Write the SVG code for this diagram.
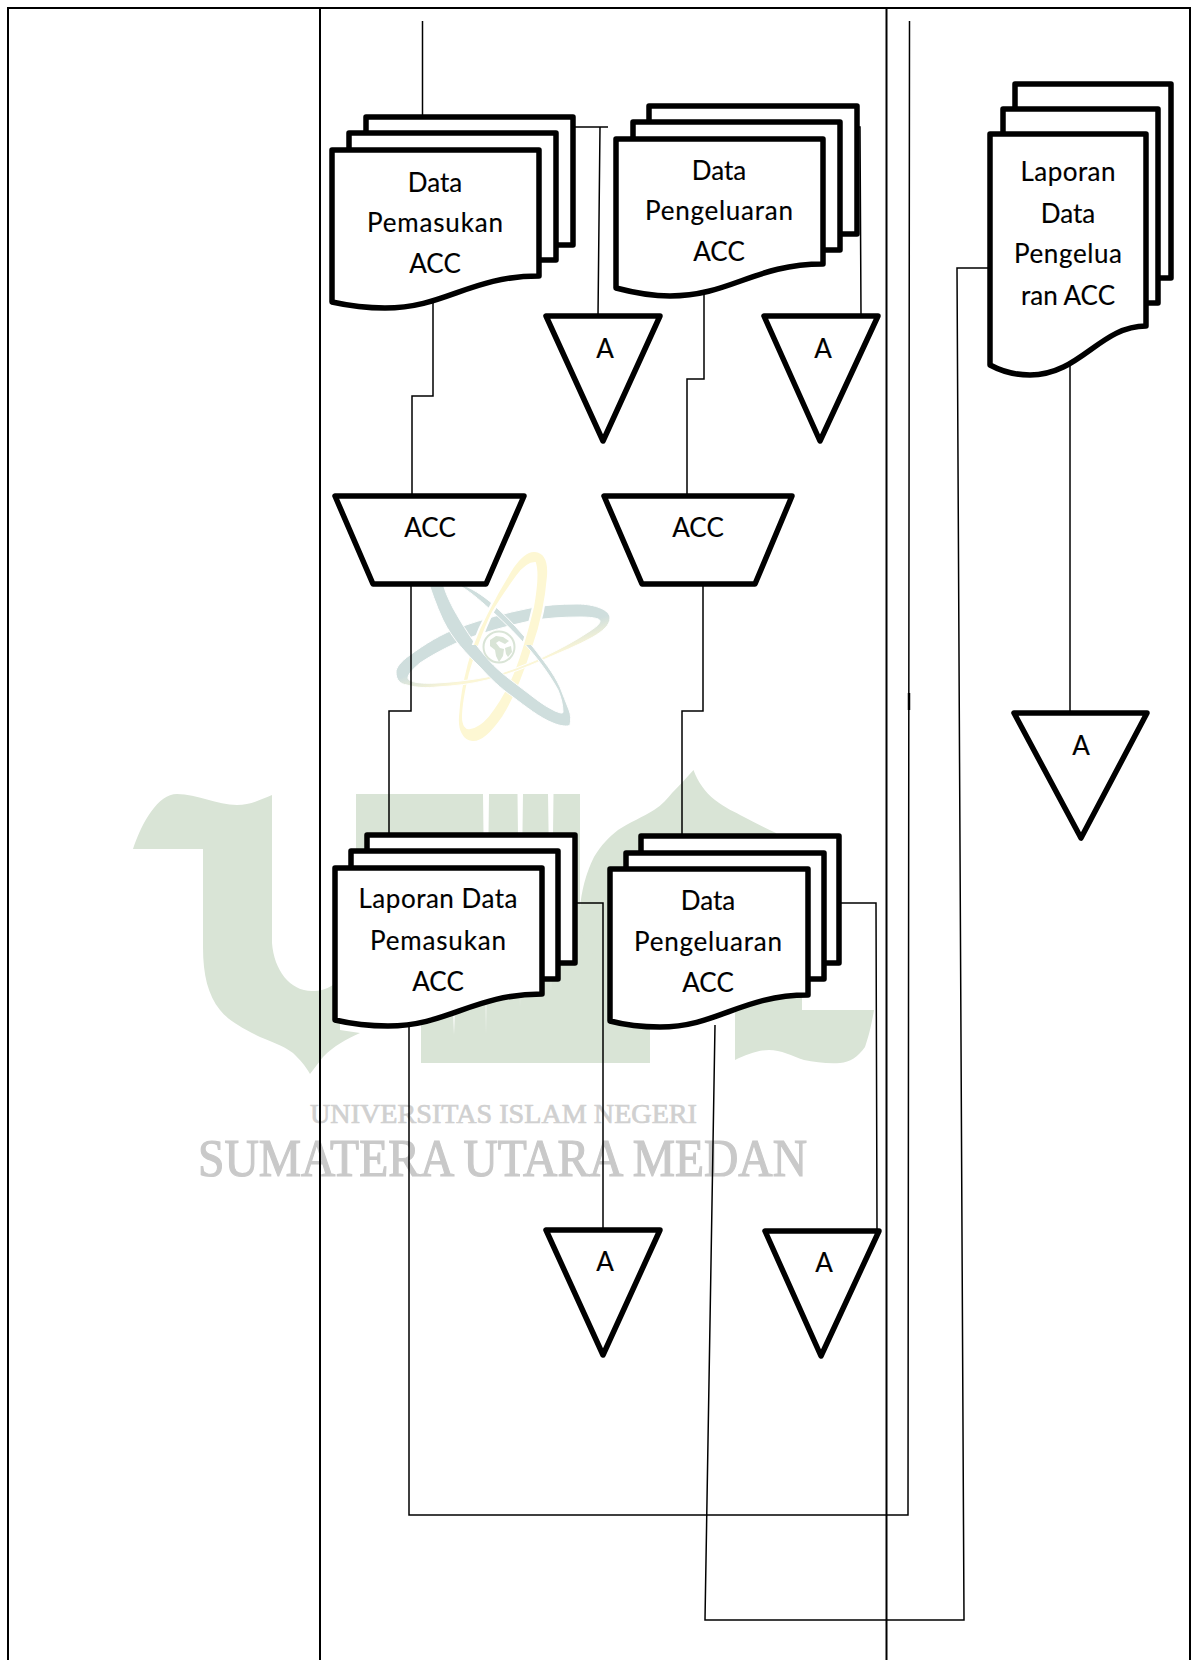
<svg xmlns="http://www.w3.org/2000/svg" width="1200" height="1660" viewBox="0 0 1200 1660">
<defs>
<linearGradient id="ringGrad" gradientUnits="userSpaceOnUse" x1="488" y1="622" x2="506" y2="682">
<stop offset="0.45" stop-color="#cfdedd"/><stop offset="0.8" stop-color="#fbf6d6"/>
</linearGradient>
<clipPath id="upperYellow"><rect x="470" y="540" width="90" height="105"/></clipPath>
<path id="yellowRing" fill="#fdf7d3" fill-rule="evenodd" stroke="#fff" stroke-width="2" d="M535 551C545 552 549 562 548 576C546 600 541 625 533 647C524 675 514 700 503 717C492 733 481 743 472 742C462 741 457 730 458 717C459 698 462 682 467 663C472 645 479 628 487 613C495 597 504 581 513 567C520 557 527 550 535 551ZM535 563C530 563 523 568 517 576C507 590 500 600 493 612C484 630 477 650 470 673C466 690 463 705 463 717C463 725 466 729 470 728C476 727 482 723 488 716C497 705 503 695 510 680C519 660 527 632 533 607C536 590 538 572 535 563Z"/>
</defs>
<style>
.frame{fill:none;stroke:#000;stroke-width:2}
.wm{fill:#d9e4d6;stroke:none}
.slit{fill:#fff;stroke:none}
.doc,.shape{fill:#fff;stroke:#000;stroke-width:5.500;stroke-linejoin:round}
.conn{fill:none;stroke:#000;stroke-width:1.500}
.t{font-family:"Lato","Liberation Sans",sans-serif;font-size:26px;fill:#000;text-anchor:middle;stroke:#000;stroke-width:.15}
.g{font-family:"Liberation Serif",serif;fill:#d0d0d0;stroke:#d0d0d0;stroke-width:.7}
</style>
<rect width="1200" height="1660" fill="#fff"/>
<g id="watermark">
<path class="wm" d="M133 849C142 822 158 794 177 794C197 794 217 805 237 805C250 805 260 800 272 795V943C274 970 290 991 312 991C320 991 327 990 340 980V1030L360 1033C345 1040 335 1045 323 1057L310 1074C305 1065 300 1060 293 1053C282 1045 272 1042 260 1037C240 1027 228 1020 220 1010C208 995 203 975 203 947V849Z"/>
<path class="wm" d="M356 794H580V910H650V1063H421V1000H356Z"/>
<path class="wm" d="M693.500 770C698 782 705 792 715 800C725 808 735 812 744 817C755 823 766 828 776 833L790 860V1000H620L579 930C579 910 581 893 586 877C589 868 591 863 594 857C601 845 609 837 618 830C630 822 643 817 654 810C662 805 668 798 672 793C680 785 687 777 693.500 770Z"/>
<path class="wm" d="M735 990H802V1010H874C871 1028 868 1038 865 1047C858 1057 850 1062 840 1063C828 1064 815 1062 804 1060C792 1056 781 1050 769 1050C757 1050 746 1055 735 1060Z"/>
<path class="slit" d="M483 794H489L486 1035ZM517.500 794H523L520 1008ZM548 794H553.500L551 992ZM452 985H456L454 1035Z"/>
<use href="#yellowRing"/>
<path fill="url(#ringGrad)" fill-rule="evenodd" stroke="#fff" stroke-width="1" d="M610 618C610 610 595 604 577 604C560 604 545 605 530 608C505 613 483 619 460 627C441 634 425 644 410 655C400 662 396 668 396 672C396 680 400 684 407 685C417 688 427 688 437 687C455 686 471 684 487 680C507 675 525 668 543 660C561 652 577 646 593 637C603 631 610 625 610 618ZM600 621C600 618 590 617 580 617C563 617 547 618 530 621C507 626 485 632 463 640C447 647 432 655 420 663C413 669 408 674 408 678C408 682 420 684 437 683C455 682 471 680 487 677C507 672 525 665 543 657C560 649 575 641 590 631C596 627 600 624 600 621Z"/>
<path fill="#cfdedd" fill-rule="evenodd" stroke="#fff" stroke-width="1" d="M426 575C431 590 436 605 443 620C453 640 466 653 480 667C490 678 500 688 513 697C525 706 540 718 553 723C560 726 568 727 570 725C571 720 571 715 569 710C566 702 563 695 560 687C553 672 543 660 533 647C522 633 510 620 497 608C487 598 475 590 463 585L455 575ZM441 575C444 590 448 598 453 608C463 626 473 642 486 657C496 669 508 678 520 687C531 695 542 705 555 711C560 713 563 714 563 712C563 705 561 697 558 690C551 677 541 663 530 650C518 636 506 624 493 612C483 603 472 593 462 587L448 575Z"/>
<use href="#yellowRing" clip-path="url(#upperYellow)"/>
<circle cx="499" cy="647" r="15.500" fill="#fff" stroke="#d9e4d6" stroke-width="2"/>
<path fill="#d9e4d6" d="M490 640l6-4 7 1 6 4-4 3-6-3-3 2 4 5 4 1-1 7-4 6-3-6-1-6-5-4zM505 648l6-2 1 6-4 5-2-3z"/>
<text class="g" x="310" y="1123" font-size="27" textLength="387" lengthAdjust="spacingAndGlyphs">UNIVERSITAS ISLAM NEGERI</text>
<text class="g" x="198" y="1176" font-size="52" textLength="609" lengthAdjust="spacingAndGlyphs" style="fill:#c9c9c9;stroke:#c9c9c9;stroke-width:1.200">SUMATERA UTARA MEDAN</text>
</g>
<g id="swimlanes">
<path class="frame" d="M8 1660V8H1190V1660M320 8V1660M886.500 8V1660"/>
</g>
<g id="connectors">
<path class="conn" d="M422.500 21V117"/>
<path class="conn" d="M573 127H608M600 127L598 316"/>
<path class="conn" d="M857 127H860L861 316"/>
<path class="conn" d="M433 302V396H412V496"/>
<path class="conn" d="M704 293V379H687V496"/>
<path class="conn" d="M411 584V711H389V835"/>
<path class="conn" d="M703 584V711H682V836"/>
<path class="conn" d="M575 903H603V1230"/>
<path class="conn" d="M840 903H876L877 1231"/>
<path class="conn" d="M409 1027V1515H908L909.500 21"/>
<path class="conn" d="M909 693V710" style="stroke-width:2.500"/>
<path class="conn" d="M715 1025L705 1620H964L957 268H990"/>
<path class="conn" d="M1070 360V713"/>
</g>
<g id="doc-data-pemasukan">
<path class="doc" d="M366 150V117H573V245H540"/>
<path class="doc" d="M349 150V133H556V260H540"/>
<path class="doc" d="M332 150H539V276C470 276 445 308 385 308C365 308 350 306 332 302Z"/>
<text class="t" x="435" y="192">Data</text><text class="t" x="435" y="232" textLength="136">Pemasukan</text><text class="t" x="435" y="273">ACC</text>
</g>
<g id="doc-data-pengeluaran-1">
<path class="doc" d="M649 122V106H857V234H824"/>
<path class="doc" d="M633 139V122H840V250H824"/>
<path class="doc" d="M616 139H823V264C755 264 730 296 670 296C650 296 635 293 616 288Z"/>
<text class="t" x="719" y="180">Data</text><text class="t" x="719" y="220" textLength="148">Pengeluaran</text><text class="t" x="719" y="261">ACC</text>
</g>
<g id="doc-laporan-data-pengeluaran">
<path class="doc" d="M1015 109V84H1171V278H1147"/>
<path class="doc" d="M1003 134V109H1158V303H1147"/>
<path class="doc" d="M990 134H1146V326C1100 326 1080 375 1030 375C1015 375 1003 372 990 365Z"/>
<text class="t" x="1068" y="181" textLength="95">Laporan</text><text class="t" x="1068" y="223">Data</text><text class="t" x="1068" y="263" textLength="108">Pengelua</text><text class="t" x="1068" y="305" textLength="94">ran ACC</text>
</g>
<g id="doc-laporan-data-pemasukan">
<path class="doc" d="M367 851V835H575V963H558"/>
<path class="doc" d="M351 868V851H558V979H542"/>
<path class="doc" d="M335 868H542V994C473 994 448 1026 388 1026C368 1026 352 1024 335 1020Z"/>
<text class="t" x="438" y="908" textLength="159">Laporan Data</text><text class="t" x="438" y="950" textLength="136">Pemasukan</text><text class="t" x="438" y="991">ACC</text>
</g>
<g id="doc-data-pengeluaran-2">
<path class="doc" d="M641 853V836H839V963H824"/>
<path class="doc" d="M626 869V853H824V979H808"/>
<path class="doc" d="M610 869H808V995C742 995 717 1027 660 1027C640 1027 625 1025 610 1021Z"/>
<text class="t" x="708" y="910">Data</text><text class="t" x="708" y="951" textLength="148">Pengeluaran</text><text class="t" x="708" y="992">ACC</text>
</g>
<g id="manual-acc-1"><path class="shape" d="M335 496H524L486 584H373Z"/><text class="t" x="430" y="537">ACC</text></g>
<g id="manual-acc-2"><path class="shape" d="M604 496H792L755 584H642Z"/><text class="t" x="698" y="537">ACC</text></g>
<g id="offpage-a-1"><path class="shape" d="M546 316H660L603 441Z"/><text class="t" x="605" y="358">A</text></g>
<g id="offpage-a-2"><path class="shape" d="M764 316H878L820 441Z"/><text class="t" x="823" y="358">A</text></g>
<g id="offpage-a-3"><path class="shape" d="M1014 713H1147L1081 838Z"/><text class="t" x="1081" y="755">A</text></g>
<g id="offpage-a-4"><path class="shape" d="M546 1230H660L603 1355Z"/><text class="t" x="605" y="1271">A</text></g>
<g id="offpage-a-5"><path class="shape" d="M765 1231H879L821 1356Z"/><text class="t" x="824" y="1272">A</text></g>
</svg>
